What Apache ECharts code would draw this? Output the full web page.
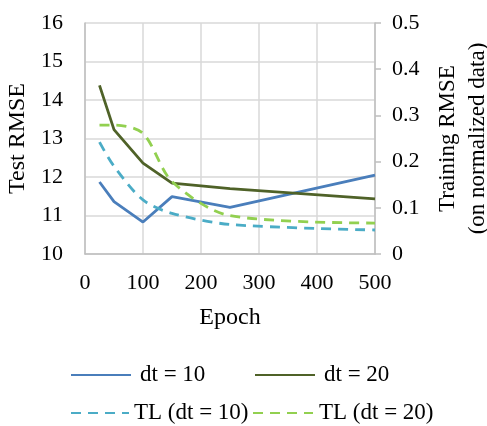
<!DOCTYPE html>
<html>
<head>
<meta charset="utf-8">
<script src="https://cdn.jsdelivr.net/npm/echarts@6/dist/echarts.min.js"></script>
<style>
html,body{margin:0;padding:0;background:#fff;}
#chart{width:487px;height:426px;}
</style>
</head>
<body>
<div id="chart"></div>
<script>
// Epochs (x values)
const epochs = [25, 50, 100, 150, 250, 500];
// Test RMSE (left axis)
const dt10 = [11.87, 11.36, 10.83, 11.49, 11.21, 12.05];
const dt20 = [14.38, 13.23, 12.36, 11.84, 11.70, 11.43];
// Training RMSE on normalized data (right axis)
const tlDt10 = [0.242, 0.190, 0.117, 0.088, 0.064, 0.052];
const tlDt20 = [0.279, 0.279, 0.261, 0.157, 0.083, 0.067];

const names = ['dt = 10', 'dt = 20', 'TL (dt = 10)', 'TL (dt = 20)'];
const colors = ['#4a7ebb', '#4f6228', '#4bacc6', '#92d050'];

const pair = (ys) => epochs.map((x, i) => [x, ys[i]]);
const FONT = 'Liberation Serif';
const tickText = { fontFamily: FONT, fontSize: 22, color: '#000' };

const chart = echarts.init(document.getElementById('chart'), null, { renderer: 'canvas' });

function legendAt(name, left, top, width, pad) {
  return {
    data: [name], left: left, top: top, padding: 0,
    itemWidth: width, itemHeight: 14,
    itemStyle: { opacity: 0 },
    textStyle: { fontFamily: FONT, fontSize: 23, color: '#000', lineHeight: 26, padding: [0, 0, 0, pad] }
  };
}

chart.setOption({
  animation: false,
  backgroundColor: '#fff',
  color: colors,
  grid: { left: 85, right: 112, top: 23, bottom: 172, containLabel: false, outerBoundsMode: 'none' },
  legend: [
    legendAt(names[0], 70, 362, 60, 4),
    legendAt(names[1], 254, 362, 60, 4),
    legendAt(names[2], 70, 400, 58, 0),
    legendAt(names[3], 252, 400, 60, 1)
  ],
  xAxis: {
    type: 'value', min: 0, max: 500, interval: 100,
    name: 'Epoch', nameLocation: 'middle', nameGap: 52,
    nameTextStyle: { fontFamily: FONT, fontSize: 24, color: '#000' },
    axisLine: { show: true, lineStyle: { color: '#bfbfbf', width: 1.5 } },
    axisTick: { show: false },
    axisLabel: Object.assign({ margin: 18 }, tickText),
    splitLine: { show: true, lineStyle: { color: '#d9d9d9', width: 1.5 } }
  },
  yAxis: [
    {
      type: 'value', min: 10, max: 16, interval: 1, position: 'left',
      name: 'Test RMSE', nameLocation: 'middle', nameGap: 55,
      nameTextStyle: { fontFamily: FONT, fontSize: 24, color: '#000' },
      axisLine: { show: true, lineStyle: { color: '#bfbfbf', width: 1.5 } },
      axisTick: { show: false },
      axisLabel: Object.assign({ margin: 22 }, tickText),
      splitLine: { show: true, lineStyle: { color: '#d9d9d9', width: 1.5 } }
    },
    {
      type: 'value', min: 0, max: 0.5, interval: 0.1, position: 'right',
      name: 'Training RMSE\n(on normalized data)', nameLocation: 'middle', nameGap: 58,
      nameRotate: 90,
      nameTextStyle: { fontFamily: FONT, fontSize: 23, color: '#000', lineHeight: 30, padding: [0, 0, 8, 0] },
      axisLine: { show: true, lineStyle: { color: '#bfbfbf', width: 1.5 } },
      axisTick: { show: true, inside: false, length: 6, lineStyle: { color: '#bfbfbf', width: 1.5 } },
      axisLabel: Object.assign({ margin: 17, formatter: (v) => (v === 0 ? '0' : String(+v.toFixed(1))) }, tickText),
      splitLine: { show: false }
    }
  ],
  series: [
    { name: names[0], type: 'line', yAxisIndex: 0, data: pair(dt10), symbol: 'none',
      lineStyle: { color: colors[0], width: 2.8 }, itemStyle: { color: colors[0] } },
    { name: names[1], type: 'line', yAxisIndex: 0, data: pair(dt20), symbol: 'none',
      lineStyle: { color: colors[1], width: 2.8 }, itemStyle: { color: colors[1] } },
    { name: names[2], type: 'line', yAxisIndex: 1, data: pair(tlDt10), symbol: 'none', smooth: 0.3,
      lineStyle: { color: colors[2], width: 2.8, type: [10, 7] }, itemStyle: { color: colors[2] } },
    { name: names[3], type: 'line', yAxisIndex: 1, data: pair(tlDt20), symbol: 'none', smooth: 0.3,
      lineStyle: { color: colors[3], width: 2.8, type: [10, 7] }, itemStyle: { color: colors[3] } }
  ]
});
</script>
</body>
</html>
